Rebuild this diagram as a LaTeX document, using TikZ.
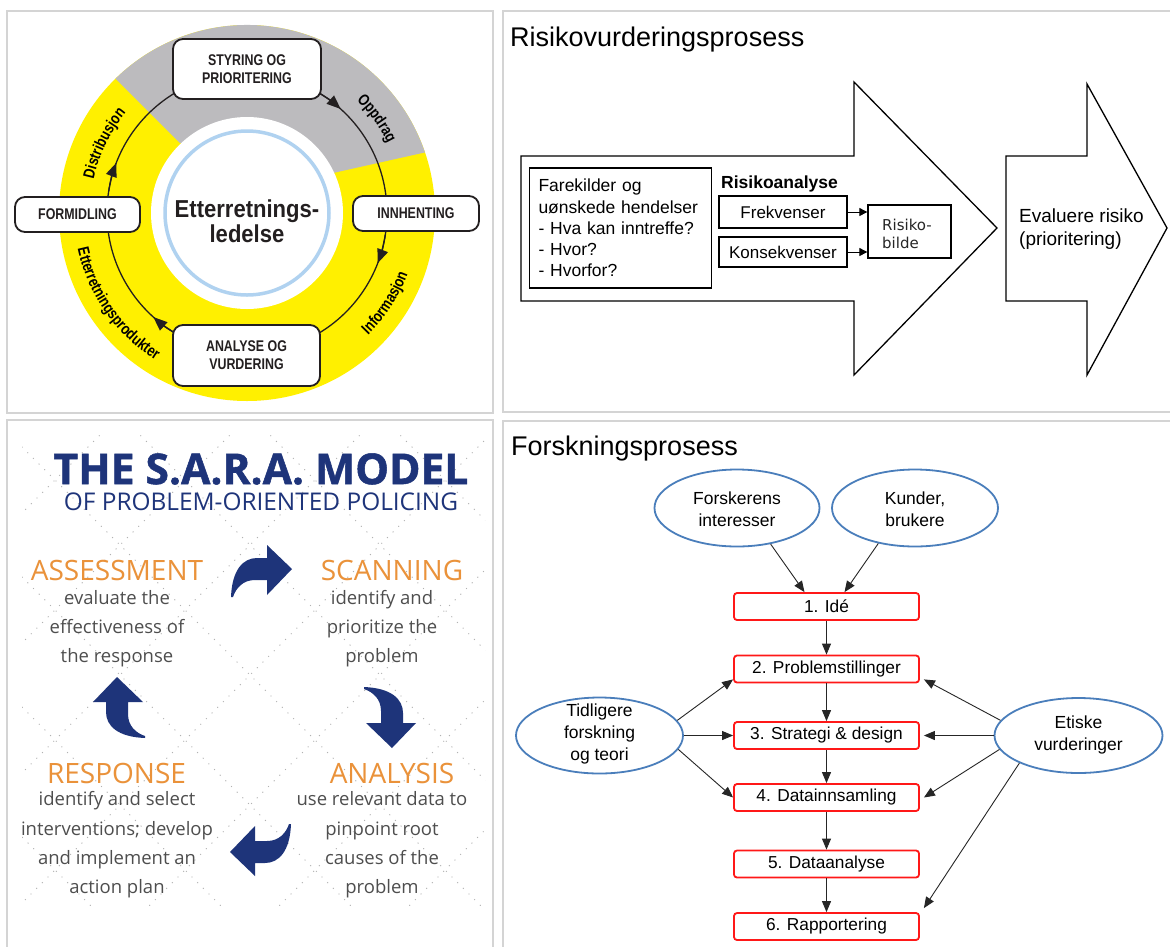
\documentclass[tikz,border=0pt]{standalone}
\usepackage{fontspec}
\setmainfont{Liberation Sans}
\newfontfamily\condf[FakeStretch=0.8]{Liberation Sans}
\newfontfamily\condg[FakeStretch=0.9]{Liberation Sans}
\newfontfamily\osans{Open Sans}
\newfontfamily\osheavy[BoldFeatures={FakeBold=1.2}]{Open Sans}
\newfontfamily\djv{DejaVu Sans}
\usetikzlibrary{shapes.geometric,arrows.meta,decorations.text}
\definecolor{yel}{RGB}{255,240,0}
\definecolor{gseg}{RGB}{188,187,190}
\definecolor{lblue}{RGB}{176,210,240}
\definecolor{navy}{RGB}{30,52,122}
\definecolor{sorange}{RGB}{234,146,58}
\definecolor{sgray}{RGB}{78,78,78}
\definecolor{eblue}{RGB}{74,126,187}
\definecolor{rred}{RGB}{255,24,24}
\definecolor{pgray}{RGB}{212,212,212}
\definecolor{ink}{RGB}{35,31,32}
\newcommand\arcf{\condf\bfseries\fontsize{16}{16}\selectfont}
\begin{document}
\begin{tikzpicture}[x=1pt,y=-1pt,
  panel/.style={draw=pgray,line width=1.5pt},
  ring/.style={draw=ink,line width=1.3pt},
  ringtip/.style={-{Triangle[length=14pt,width=11pt]}},
  cbox/.style={draw=ink,line width=1.8pt,fill=white,rounded corners=10pt,align=center,
    text=ink,inner sep=0pt,font=\condf\bfseries\fontsize{15.5}{18}\selectfont},
  sbox/.style={draw=black,line width=1.3pt,inner sep=0pt,font=\fontsize{17}{20}\selectfont},
  bigarrow/.style={draw=black,line width=1.3pt,fill=white,line join=miter},
  sarr/.style={-{Triangle[length=8pt,width=8pt]},line width=0.9pt},
  ell/.style={ellipse,draw=eblue,line width=1.8pt,inner sep=0pt},
  etext/.style={align=center,inner sep=0pt,font=\fontsize{17.5}{22}\selectfont},
  rbox/.style={draw=rred,line width=1.8pt,rounded corners=3pt,minimum width=185pt,
    minimum height=27pt,inner sep=0pt,font=\fontsize{17.3}{20}\selectfont},
  farr/.style={-{Triangle[length=11pt,width=9pt]},line width=0.9pt,draw=black!85},
  dotgrid/.style={draw=gray!60,line width=1.4pt,line cap=round,dash pattern=on 0pt off 8pt},
  shead/.style={text=sorange,inner sep=0pt,font=\osans\fontsize{28}{30}\selectfont},
  sbody/.style={text=sgray,align=center,inner sep=0pt,font=\osans\fontsize{18.5}{29.3}\selectfont},
  sarrow/.pic={\fill[navy] (-61,28) .. controls (-60,1) and (-49,-11) .. (-35,-11) -- (-25,-11)
     -- (-25,-24) -- (0,0) -- (-25,26) -- (-25,11) -- (-37,11)
     .. controls (-49,11) and (-56,19) .. (-59,28) -- cycle;}
]
\useasboundingbox (0,0) rectangle (1170,946);
\fill[white] (0,0) rectangle (1170,946);
% panels
\draw[panel] (7,11) rectangle (493,413);
\draw[panel] (503,11) rectangle (1180,412);
\draw[panel] (7,420) rectangle (493,960);
\draw[panel] (503,421) rectangle (1180,960);

% ---------- top left: intelligence cycle ----------
\begin{scope}[shift={(247pt,-213pt)},y=1pt]
  \fill[yel] (0,0) circle (188);
  \fill[gseg] (86,40) -- (18.8:188) arc (18.8:134.4:188) -- (-67,70) -- cycle;
  \fill[white] (0,0) circle (96);
  \draw[lblue,line width=3.5pt] (0,0) circle (82);
  \draw[ring] (0,0) circle (140);
  \draw[ring,ringtip] (60:140) arc (60:48:140);
  \draw[ring,ringtip] (-9:140) arc (-9:-21:140);
  \draw[ring,ringtip] (240:140) arc (240:228:140);
  \draw[ring,ringtip] (171:140) arc (171:159:140);
  \path[decorate,decoration={text along path,text align=center,text={|\arcf|Oppdrag}}]
    (62:157) arc (62:10:157);
  \path[decorate,decoration={text along path,text align=center,text={|\arcf|Distribusjon}}]
    (186:157) arc (186:122:157);
  \path[decorate,decoration={text along path,text align=center,text={|\arcf|Informasjon}}]
    (-65:172) arc (-65:-1:172);
  \path[decorate,decoration={text along path,text align=center,text={|\arcf|Etterretningsprodukter}}]
    (175:173) arc (175:255:173);
  \node[cbox,minimum width=148pt,minimum height=60pt] (sty) at (0,144) {STYRING OG\\PRIORITERING};
  \node[cbox,minimum width=126pt,minimum height=35pt] (inn) at (169,-0.5) {INNHENTING};
  \node[cbox,minimum width=147pt,minimum height=61pt] (ana) at (-0.5,-142.5) {ANALYSE OG\\VURDERING};
  \node[cbox,minimum width=125pt,minimum height=35pt] (form) at (-169.5,-1.5) {FORMIDLING};
  \node[align=center,text=ink,inner sep=0pt,font=\condg\bfseries\fontsize{24.5}{24.5}\selectfont]
    (ett) at (0,-8) {Etterretnings-\\ledelse};
\end{scope}

% ---------- top right: risk assessment ----------
\node[anchor=base west,inner sep=0pt,font=\fontsize{27}{30}\selectfont] (t1) at (510,46) {Risikovurderingsprosess};
\draw[bigarrow] (521,156) -- (854,156) -- (854,82) -- (997,228) -- (854,375) -- (854,301) -- (521,301) -- cycle;
\draw[bigarrow] (1006,156) -- (1087,156) -- (1087,84) -- (1167,228) -- (1087,375) -- (1087,301) -- (1006,301) -- cycle;
\node[draw,line width=1.3pt,minimum width=182pt,minimum height=120pt,text width=164pt,
  inner xsep=9pt,align=left,font=\fontsize{17.5}{21.2}\selectfont] (fare) at (620.5,228)
  {Farekilder og\\uønskede hendelser\\- Hva kan inntreffe?\\- Hvor?\\- Hvorfor?};
\node[anchor=base west,inner sep=0pt,font=\bfseries\fontsize{17.5}{20}\selectfont] (ra) at (721,188) {Risikoanalyse};
\node[sbox,minimum width=128pt,minimum height=32pt] (frek) at (783,212) {Frekvenser};
\node[sbox,minimum width=128pt,minimum height=30pt] (kons) at (783,252) {Konsekvenser};
\node[sbox,minimum width=83pt,minimum height=53pt] (rb) at (909.5,231.5) {};
\node[anchor=west,align=left,inner sep=0pt,text=black!85,font=\djv\fontsize{15}{18.5}\selectfont] (rbt) at (882,234) {Risiko-\\bilde};
\draw[sarr] (frek.east) -- (frek.east -| rb.west);
\draw[sarr] (kons.east) -- (kons.east -| rb.west);
\node[anchor=west,align=left,inner sep=0pt,font=\fontsize{19}{23.5}\selectfont] (ev) at (1019,229) {Evaluere risiko\\(prioritering)};

% ---------- bottom left: SARA ----------
\begin{scope}
  \clip (22,435) rectangle (485,905);
  \foreach \a in {-515,-385,...,265} \draw[dotgrid] (\a,300) -- ++(700,700);
  \foreach \a in {235,365,...,1015} \draw[dotgrid] (\a,300) -- ++(-700,700);
\end{scope}
\node[text=navy,inner sep=0pt,font=\osheavy\bfseries\fontsize{42.5}{43}\selectfont] (sarat) at (261,469) {THE S.A.R.A. MODEL};
\node[text=navy,inner sep=0pt,font=\osans\fontsize{24.4}{26}\selectfont] (saras) at (261,502) {OF PROBLEM-ORIENTED POLICING};
\node[shead] (hass) at (117,570) {ASSESSMENT};
\node[shead] (hscan) at (392,570) {SCANNING};
\node[shead] (hresp) at (116.5,773) {RESPONSE};
\node[shead] (hana) at (392,773) {ANALYSIS};
\node[sbody] (bass) at (117,628.5) {evaluate the\\effectiveness of\\the response};
\node[sbody] (bscan) at (382,628.5) {identify and\\prioritize the\\problem};
\node[sbody] (bresp) at (117,845) {identify and select\\interventions; develop\\and implement an\\action plan};
\node[sbody] (bana) at (382,845) {use relevant data to\\pinpoint root\\causes of the\\problem};
\pic at (292,569) {sarrow};
\pic[rotate=-90] at (392,748) {sarrow};
\pic[rotate=180] at (230,852) {sarrow};
\pic[rotate=90] at (117,677) {sarrow};

% ---------- bottom right: research process ----------
\node[anchor=base west,inner sep=0pt,font=\fontsize{27}{30}\selectfont] (t2) at (511,455) {Forskningsprosess};
\node[ell,minimum width=165pt,minimum height=77pt] (fi) at (737,508) {};
\node[etext] (fit) at (737,509) {Forskerens\\interesser};
\node[ell,minimum width=166pt,minimum height=77pt] (ku) at (915,508) {};
\node[etext] (kut) at (915,509) {Kunder,\\brukere};
\node[ell,minimum width=167pt,minimum height=76pt] (tid) at (599.5,735.5) {};
\node[etext] (tidt) at (599.5,734) {Tidligere\\forskning\\og teori};
\node[ell,minimum width=168pt,minimum height=75pt] (et) at (1078.5,735.5) {};
\node[etext] (ett2) at (1078.5,735) {Etiske\\vurderinger};
\node[rbox] (ide) at (826.5,606.5) {1. Idé};
\node[rbox] (p2) at (826.5,669) {2. Problemstillinger};
\node[rbox] (s3) at (826.5,735.5) {3. Strategi \& design};
\node[rbox] (d4) at (826.5,797.5) {4. Datainnsamling};
\node[rbox] (da5) at (826.5,864) {5. Dataanalyse};
\node[rbox] (r6) at (826.5,926.5) {6. Rapportering};
\draw[farr] (fi.-47) -- ([xshift=-22pt]ide.north);
\draw[farr] (ku.224) -- ([xshift=18pt]ide.north);
\draw[farr] (ide.south) -- (p2.north);
\draw[farr] (p2.south) -- (s3.north);
\draw[farr] (s3.south) -- (d4.north);
\draw[farr] (d4.south) -- (da5.north);
\draw[farr] (da5.south) -- (r6.north);
\draw[farr] (tid.11) -- ([yshift=4pt]p2.south west);
\draw[farr] (tid.east) -- (s3.west);
\draw[farr] (tid.-10) -- (d4.west);
\draw[farr] (et.169) -- ([xshift=4pt,yshift=4pt]p2.south east);
\draw[farr] (et.west) -- ([xshift=4pt]s3.east);
\draw[farr] (et.190) -- ([xshift=4pt]d4.east);
\draw[farr] (et.205) -- ([xshift=4pt,yshift=4pt]r6.north east);
\end{tikzpicture}
\end{document}
